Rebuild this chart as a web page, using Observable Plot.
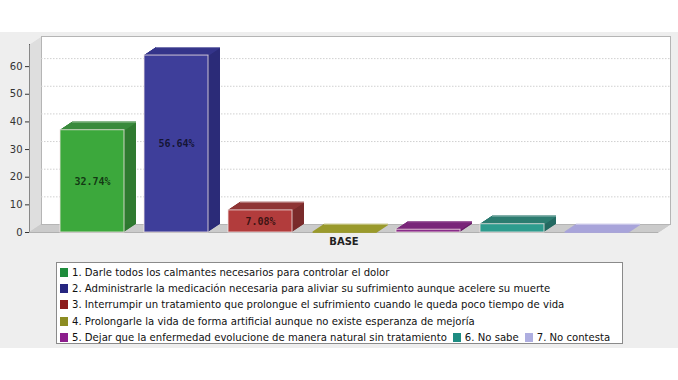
<!DOCTYPE html>
<html>
<head>
<meta charset="utf-8">
<script src="https://cdn.jsdelivr.net/npm/d3@7"></script>
<script src="https://cdn.jsdelivr.net/npm/@observablehq/plot@0.6"></script>
<style>
  html, body { margin: 0; padding: 0; background: #ffffff; }
  #wrap { position: absolute; left: 0; top: 32px; width: 678px; height: 316px; background: #eeeeee; }
  #chart { position: absolute; left: 0; top: 0; }
  #legend { position: absolute; left: 56px; top: 230px; width: 560px; height: 77px; box-sizing: content-box;
    background: #ffffff; border: 1px solid #8a8a8a; padding: 1px 2px 2px 3px;
    display: flex; flex-wrap: wrap; align-content: flex-start; column-gap: 6px;
    font-family: "DejaVu Sans", sans-serif; font-size: 10.1px; color: #111; }
  .item { display: flex; align-items: center; white-space: nowrap; height: 16.4px; }
  .sw { width: 8px; height: 9px; margin-right: 4px; }
</style>
</head>
<body>
<div id="wrap">
  <div id="chart"></div>
  <div id="legend"></div>
</div>
<script>
// ---- data ----
const category = "BASE";
const series = [
  "1. Darle todos los calmantes necesarios para controlar el dolor",
  "2. Administrarle la medicación necesaria para aliviar su sufrimiento aunque acelere su muerte",
  "3. Interrumpir un tratamiento que prolongue el sufrimiento cuando le queda poco tiempo de vida",
  "4. Prolongarle la vida de forma artificial aunque no existe esperanza de mejoría",
  "5. Dejar que la enfermedad evolucione de manera natural sin tratamiento",
  "6. No sabe",
  "7. No contesta"
];
const counts = [37, 64, 8, 0, 1, 3, 0];
const pctLabels = ["32.74%", "56.64%", "7.08%", "", "", "", ""];
const yTicks = [0, 10, 20, 30, 40, 50, 60];

// ---- colours ----
const frontColors = ["#3ca83c", "#3e3e9a", "#b23c3c", "#a0a02c", "#8a2d8a", "#2e9c8e", "#aba7dd"];
const topColors   = ["#3b8a3c", "#34348a", "#8e3434", "#9a9a2c", "#7a267a", "#2c7c72", "#a9a5da"];
const sideColors  = ["#2f7a30", "#2b2b78", "#7a2b2b", "#85851f", "#6a206a", "#246a62", "#9994c8"];
const legendColors = ["#1e8c3c", "#262680", "#8c1c1c", "#8c8c22", "#8c1e8c", "#1e8c82", "#aeaee0"];

const rows = series.map((s, i) => ({
  series: s, count: counts[i], label: pctLabels[i],
  front: frontColors[i], top: topColors[i], side: sideColors[i]
}));

// 3D depth in pixels
const DX = 12, DY = -8;
const steps = d3.range(0.5, 12.01, 0.5);

const marks = [];
// left wall + floor base
for (const k of steps) {
  marks.push(Plot.frame({fill: "#dedede", stroke: null, dx: k, dy: k * DY / DX}));
}
marks.push(Plot.frame({fill: "#dedede", stroke: null}));
// floor
for (const k of steps) {
  marks.push(Plot.ruleY([0], {stroke: "#cbcbcb", strokeWidth: 1.2, dx: k, dy: k * DY / DX}));
}
// back wall
marks.push(Plot.frame({fill: "#ffffff", stroke: "#b5b5b5", dx: DX, dy: DY}));
// gridlines on back wall
marks.push(Plot.ruleY(yTicks.slice(1), {stroke: "#d0d0d0", strokeDasharray: "1.5,1.5", dx: DX, dy: DY}));
// floor front edge
marks.push(Plot.ruleY([0], {stroke: "#b0b0b0", strokeWidth: 1}));

// bar side (extrusion)
for (const k of steps) {
  marks.push(Plot.barY(rows, {x: "series", y: "count", fill: "side", dx: k, dy: k * DY / DX}));
}
// bar top faces
for (const k of steps) {
  marks.push(Plot.tickY(rows, {x: "series", y: "count", stroke: "top", strokeWidth: 1.3, dx: k, dy: k * DY / DX}));
}
// back top edge highlight
marks.push(Plot.tickY(rows, {x: "series", y: "count", stroke: "#ffffff", strokeOpacity: 0.35, dx: DX, dy: DY}));
// front faces
marks.push(Plot.barY(rows, {x: "series", y: "count", fill: "front", stroke: "#f2e6e6", strokeOpacity: 0.8, strokeWidth: 1}));
// percentage labels
marks.push(Plot.text(rows, {x: "series", y: d => d.count / 2, text: "label",
  fill: "#000", fillOpacity: 0.68, fontFamily: "DejaVu Sans Mono, monospace", fontWeight: "bold", fontSize: 10}));
// category label
marks.push(Plot.text([category], {frameAnchor: "bottom", dy: 12, fontWeight: "bold", fontSize: 10, fill: "#222"}));

const chart = Plot.plot({
  width: 678,
  height: 226,
  marginLeft: 29,
  marginRight: 20,
  marginTop: 12,
  marginBottom: 26,
  style: {background: "transparent", fontFamily: "DejaVu Sans, sans-serif", fontSize: "10px", overflow: "visible", color: "#333"},
  x: {domain: series, axis: null, paddingInner: 0.243, paddingOuter: 0.343},
  y: {domain: [0, 68], ticks: yTicks, tickSize: 4, tickPadding: 3, label: null, line: true},
  color: {type: "identity"},
  marks
});
document.getElementById("chart").appendChild(chart);

// legend
const legend = document.getElementById("legend");
series.forEach((s, i) => {
  const item = document.createElement("div");
  item.className = "item";
  const sw = document.createElement("span");
  sw.className = "sw";
  sw.style.background = legendColors[i];
  const t = document.createElement("span");
  t.textContent = s;
  item.appendChild(sw);
  item.appendChild(t);
  legend.appendChild(item);
});
</script>
</body>
</html>
